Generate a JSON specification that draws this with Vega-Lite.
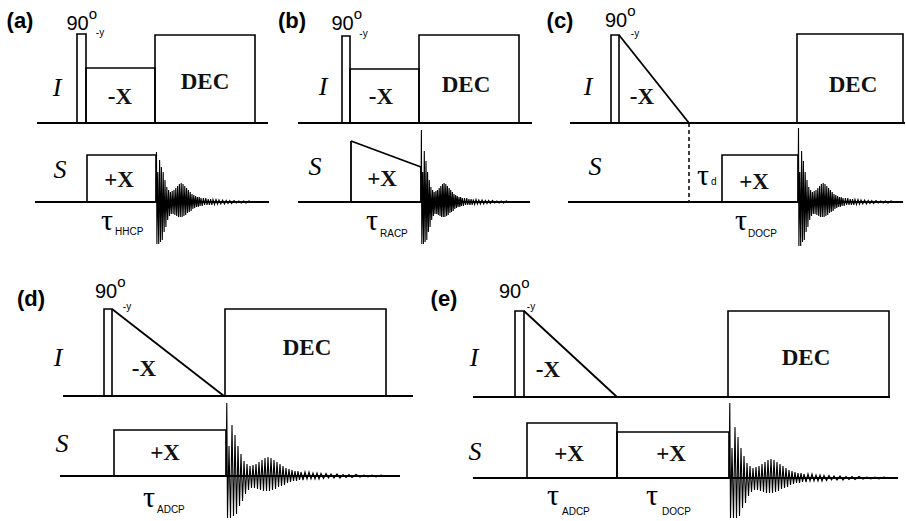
{
"$schema": "https://vega.github.io/schema/vega-lite/v6.json",
"width": 906, "height": 521,
"autosize": {"type": "fit", "contains": "padding"},
"padding": 0,
"background": "white",
"config": {"view": {"stroke": null}},
"datasets": {
"segs": [
{"x":37,"y":123,"x2":268,"y2":123},{"x":35,"y":202,"x2":269,"y2":202},
{"x":298,"y":123,"x2":532,"y2":123},{"x":298,"y":202,"x2":530,"y2":202},
{"x":570,"y":123,"x2":905,"y2":123},{"x":568,"y":202,"x2":903,"y2":202},
{"x":63,"y":396,"x2":413,"y2":396},{"x":60,"y":476,"x2":400,"y2":476},
{"x":473,"y":397,"x2":890,"y2":397},{"x":473,"y":478,"x2":898,"y2":478},
{"x":351,"y":202,"x2":351,"y2":141},{"x":351,"y":141,"x2":421,"y2":167},{"x":421,"y":167,"x2":421,"y2":202},
{"x":619,"y":35,"x2":689,"y2":123},{"x":112,"y":309,"x2":224,"y2":396},{"x":524,"y":311,"x2":617,"y2":397}
],
"delay": [{"x":689,"y":123,"x2":689,"y2":202}],
"boxes": [
{"x":77,"x2":86,"y":34,"y2":123},{"x":86,"x2":155,"y":68,"y2":123},{"x":155,"x2":255,"y":35,"y2":123},{"x":87,"x2":156,"y":155,"y2":202},
{"x":342,"x2":350,"y":36,"y2":123},{"x":350,"x2":419,"y":69,"y2":123},{"x":419,"x2":519,"y":35,"y2":123},
{"x":611,"x2":619,"y":35,"y2":123},{"x":797,"x2":903,"y":34,"y2":123},{"x":722,"x2":798,"y":155,"y2":202},
{"x":104,"x2":112,"y":309,"y2":396},{"x":225,"x2":386,"y":309,"y2":396},{"x":114,"x2":226,"y":430,"y2":476},
{"x":515,"x2":524,"y":311,"y2":397},{"x":728,"x2":889,"y":311,"y2":397},{"x":527,"x2":617,"y":423,"y2":478},{"x":617,"x2":729,"y":432,"y2":478}
],
"txt": [
{"r":"panel","x":20,"y":21,"t":"(a)"},{"r":"panel","x":292,"y":21,"t":"(b)"},{"r":"panel","x":560,"y":21,"t":"(c)"},{"r":"panel","x":31,"y":299,"t":"(d)"},{"r":"panel","x":444,"y":299,"t":"(e)"},
{"r":"ninety","x":77.5,"y":30,"t":"90"},{"r":"ninety","x":342.5,"y":30,"t":"90"},{"r":"ninety","x":616,"y":27,"t":"90"},{"r":"ninety","x":106,"y":298,"t":"90"},{"r":"ninety","x":510,"y":298,"t":"90"},
{"r":"deg","x":93,"y":14,"t":"o"},{"r":"deg","x":358,"y":14,"t":"o"},{"r":"deg","x":631.5,"y":11,"t":"o"},{"r":"deg","x":121.5,"y":282,"t":"o"},{"r":"deg","x":525.5,"y":283,"t":"o"},
{"r":"phase","x":100,"y":33,"t":"-y"},{"r":"phase","x":363.5,"y":34,"t":"-y"},{"r":"phase","x":635,"y":34,"t":"-y"},{"r":"phase","x":127,"y":307,"t":"-y"},{"r":"phase","x":531,"y":307,"t":"-y"},
{"r":"nuc","x":57,"y":88,"t":"I"},{"r":"nuc","x":323,"y":87,"t":"I"},{"r":"nuc","x":588,"y":87,"t":"I"},{"r":"nuc","x":58,"y":358,"t":"I"},{"r":"nuc","x":474,"y":358,"t":"I"},
{"r":"nuc","x":60,"y":170,"t":"S"},{"r":"nuc","x":315,"y":167,"t":"S"},{"r":"nuc","x":595,"y":167,"t":"S"},{"r":"nuc","x":62,"y":444,"t":"S"},{"r":"nuc","x":475,"y":452,"t":"S"},
{"r":"op","x":120,"y":97,"t":"-X"},{"r":"op","x":381,"y":97,"t":"-X"},{"r":"op","x":642,"y":97,"t":"-X"},{"r":"op","x":144,"y":369,"t":"-X"},{"r":"op","x":548,"y":370,"t":"-X"},
{"r":"op","x":205,"y":82,"t":"DEC"},{"r":"op","x":466,"y":85,"t":"DEC"},{"r":"op","x":853,"y":85,"t":"DEC"},{"r":"op","x":307,"y":348,"t":"DEC"},{"r":"op","x":806,"y":358,"t":"DEC"},
{"r":"op","x":119,"y":180,"t":"+X"},{"r":"op","x":382,"y":179,"t":"+X"},{"r":"op","x":754,"y":182,"t":"+X"},{"r":"op","x":165,"y":453,"t":"+X"},{"r":"op","x":569,"y":454,"t":"+X"},{"r":"op","x":671,"y":454,"t":"+X"},
{"r":"tau","x":107,"y":230,"t":"τ"},{"r":"tau","x":372,"y":230,"t":"τ"},{"r":"tau","x":703,"y":185,"t":"τ"},{"r":"tau","x":741,"y":230,"t":"τ"},{"r":"tau","x":149,"y":507,"t":"τ"},{"r":"tau","x":553,"y":505,"t":"τ"},{"r":"tau","x":652,"y":505,"t":"τ"},
{"r":"sub","x":115,"y":235,"t":"HHCP"},{"r":"sub","x":380,"y":237,"t":"RACP"},{"r":"sub","x":711,"y":185,"t":"d"},{"r":"sub","x":748,"y":237,"t":"DOCP"},{"r":"sub","x":157,"y":513,"t":"ADCP"},{"r":"sub","x":562,"y":515,"t":"ADCP"},{"r":"sub","x":662,"y":515,"t":"DOCP"}
],
"fid": [
{"p":"a","x":156,"y":202},{"p":"a","x":156.5,"y":152},{"p":"a","x":156.9,"y":244},{"p":"a","x":157.8,"y":172},{"p":"a","x":158.7,"y":244},{"p":"a","x":159.6,"y":160},{"p":"a","x":160.5,"y":242},{"p":"a","x":161.4,"y":167},{"p":"a","x":162.3,"y":240},{"p":"a","x":163.2,"y":172},
{"p":"a","x":164.1,"y":232},{"p":"a","x":165,"y":180},{"p":"a","x":165.9,"y":227},{"p":"a","x":166.8,"y":187},{"p":"a","x":167.7,"y":220},{"p":"a","x":168.6,"y":190},{"p":"a","x":169.5,"y":216},{"p":"a","x":170.4,"y":192},{"p":"a","x":171.3,"y":214},{"p":"a","x":172.2,"y":191},
{"p":"a","x":173.1,"y":214},{"p":"a","x":174,"y":190},{"p":"a","x":174.9,"y":215},{"p":"a","x":175.8,"y":188},{"p":"a","x":176.7,"y":216},{"p":"a","x":177.6,"y":186},{"p":"a","x":178.5,"y":217},{"p":"a","x":179.4,"y":184},{"p":"a","x":180.3,"y":217},{"p":"a","x":181.2,"y":183},
{"p":"a","x":182.1,"y":217},{"p":"a","x":183,"y":184},{"p":"a","x":183.9,"y":216},{"p":"a","x":184.8,"y":186},{"p":"a","x":185.7,"y":215},{"p":"a","x":186.6,"y":188},{"p":"a","x":187.5,"y":213},{"p":"a","x":188.4,"y":190},{"p":"a","x":189.3,"y":212},{"p":"a","x":190.2,"y":192},
{"p":"a","x":191.1,"y":211},{"p":"a","x":192,"y":194},{"p":"a","x":192.9,"y":209},{"p":"a","x":193.8,"y":195},{"p":"a","x":194.7,"y":208},{"p":"a","x":195.6,"y":196},{"p":"a","x":196.5,"y":207},{"p":"a","x":197.4,"y":197},{"p":"a","x":198.3,"y":207},{"p":"a","x":199.2,"y":197},
{"p":"a","x":200.1,"y":206},{"p":"a","x":201,"y":198},{"p":"a","x":202.2,"y":206},{"p":"a","x":203.4,"y":198},{"p":"a","x":204.6,"y":205},{"p":"a","x":205.8,"y":198},{"p":"a","x":207,"y":205},{"p":"a","x":208.2,"y":199},{"p":"a","x":209.4,"y":205},{"p":"a","x":210.6,"y":199},
{"p":"a","x":211.8,"y":205},{"p":"a","x":213,"y":199.5},{"p":"a","x":214.5,"y":204.5},{"p":"a","x":216,"y":199.5},{"p":"a","x":217.5,"y":204},{"p":"a","x":219,"y":200},{"p":"a","x":220.8,"y":204},{"p":"a","x":222.6,"y":200},{"p":"a","x":224.4,"y":204},{"p":"a","x":226.2,"y":200.5},
{"p":"a","x":228,"y":203.5},{"p":"a","x":229.8,"y":200.5},{"p":"a","x":231.6,"y":203.5},{"p":"a","x":234,"y":200.5},{"p":"a","x":236.4,"y":203},{"p":"a","x":238.8,"y":201},{"p":"a","x":241.2,"y":203},{"p":"a","x":243.6,"y":201},{"p":"a","x":246,"y":203},{"p":"a","x":249,"y":201},
{"p":"a","x":252,"y":202.5},{"p":"a","x":255,"y":201.5},{"p":"a","x":260,"y":202},
{"p":"b","x":421,"y":202},{"p":"b","x":421.4,"y":130},{"p":"b","x":421.8,"y":244},{"p":"b","x":422.7,"y":172},{"p":"b","x":423.5,"y":244},{"p":"b","x":424.3,"y":151},{"p":"b","x":425.1,"y":242},{"p":"b","x":426,"y":161},{"p":"b","x":426.8,"y":240},{"p":"b","x":427.6,"y":172},
{"p":"b","x":428.4,"y":232},{"p":"b","x":429.3,"y":180},{"p":"b","x":430.1,"y":227},{"p":"b","x":430.9,"y":187},{"p":"b","x":431.7,"y":220},{"p":"b","x":432.6,"y":190},{"p":"b","x":433.4,"y":216},{"p":"b","x":434.2,"y":192},{"p":"b","x":435,"y":214},{"p":"b","x":435.9,"y":191},
{"p":"b","x":436.7,"y":214},{"p":"b","x":437.5,"y":190},{"p":"b","x":438.3,"y":215},{"p":"b","x":439.2,"y":188},{"p":"b","x":440,"y":216},{"p":"b","x":440.8,"y":186},{"p":"b","x":441.6,"y":217},{"p":"b","x":442.5,"y":184},{"p":"b","x":443.3,"y":217},{"p":"b","x":444.1,"y":183},
{"p":"b","x":444.9,"y":217},{"p":"b","x":445.8,"y":184},{"p":"b","x":446.6,"y":216},{"p":"b","x":447.4,"y":186},{"p":"b","x":448.2,"y":215},{"p":"b","x":449.1,"y":188},{"p":"b","x":449.9,"y":213},{"p":"b","x":450.7,"y":190},{"p":"b","x":451.5,"y":212},{"p":"b","x":452.4,"y":192},
{"p":"b","x":453.2,"y":211},{"p":"b","x":454,"y":194},{"p":"b","x":454.8,"y":209},{"p":"b","x":455.7,"y":195},{"p":"b","x":456.5,"y":208},{"p":"b","x":457.3,"y":196},{"p":"b","x":458.1,"y":207},{"p":"b","x":459,"y":197},{"p":"b","x":459.8,"y":207},{"p":"b","x":460.6,"y":197},
{"p":"b","x":461.4,"y":206},{"p":"b","x":462.3,"y":198},{"p":"b","x":463.4,"y":206},{"p":"b","x":464.5,"y":198},{"p":"b","x":465.6,"y":205},{"p":"b","x":466.7,"y":198},{"p":"b","x":467.8,"y":205},{"p":"b","x":468.9,"y":199},{"p":"b","x":470,"y":205},{"p":"b","x":471.1,"y":199},
{"p":"b","x":472.2,"y":205},{"p":"b","x":473.3,"y":199.5},{"p":"b","x":474.6,"y":204.5},{"p":"b","x":476,"y":199.5},{"p":"b","x":477.4,"y":204},{"p":"b","x":478.8,"y":200},{"p":"b","x":480.4,"y":204},{"p":"b","x":482.1,"y":200},{"p":"b","x":483.7,"y":204},{"p":"b","x":485.4,"y":200.5},
{"p":"b","x":487,"y":203.5},{"p":"b","x":488.7,"y":200.5},{"p":"b","x":490.3,"y":203.5},{"p":"b","x":492.5,"y":200.5},{"p":"b","x":494.7,"y":203},{"p":"b","x":496.9,"y":201},{"p":"b","x":499.1,"y":203},{"p":"b","x":501.3,"y":201},{"p":"b","x":503.5,"y":203},{"p":"b","x":506.3,"y":201},
{"p":"b","x":509,"y":202.5},{"p":"b","x":511.8,"y":201.5},{"p":"b","x":517,"y":202},
{"p":"c","x":798,"y":202},{"p":"c","x":798.5,"y":128},{"p":"c","x":798.9,"y":246},{"p":"c","x":799.8,"y":172},{"p":"c","x":800.7,"y":246},{"p":"c","x":801.6,"y":151},{"p":"c","x":802.5,"y":242},{"p":"c","x":803.4,"y":161},{"p":"c","x":804.3,"y":240},{"p":"c","x":805.2,"y":172},
{"p":"c","x":806.1,"y":232},{"p":"c","x":807,"y":180},{"p":"c","x":807.9,"y":227},{"p":"c","x":808.8,"y":187},{"p":"c","x":809.7,"y":220},{"p":"c","x":810.6,"y":190},{"p":"c","x":811.5,"y":216},{"p":"c","x":812.4,"y":192},{"p":"c","x":813.3,"y":214},{"p":"c","x":814.2,"y":191},
{"p":"c","x":815.1,"y":214},{"p":"c","x":816,"y":190},{"p":"c","x":816.9,"y":215},{"p":"c","x":817.8,"y":188},{"p":"c","x":818.7,"y":216},{"p":"c","x":819.6,"y":186},{"p":"c","x":820.5,"y":217},{"p":"c","x":821.4,"y":184},{"p":"c","x":822.3,"y":217},{"p":"c","x":823.2,"y":183},
{"p":"c","x":824.1,"y":217},{"p":"c","x":825,"y":184},{"p":"c","x":825.9,"y":216},{"p":"c","x":826.8,"y":186},{"p":"c","x":827.7,"y":215},{"p":"c","x":828.6,"y":188},{"p":"c","x":829.5,"y":213},{"p":"c","x":830.4,"y":190},{"p":"c","x":831.3,"y":212},{"p":"c","x":832.2,"y":192},
{"p":"c","x":833.1,"y":211},{"p":"c","x":834,"y":194},{"p":"c","x":834.9,"y":209},{"p":"c","x":835.8,"y":195},{"p":"c","x":836.7,"y":208},{"p":"c","x":837.6,"y":196},{"p":"c","x":838.5,"y":207},{"p":"c","x":839.4,"y":197},{"p":"c","x":840.3,"y":207},{"p":"c","x":841.2,"y":197},
{"p":"c","x":842.1,"y":206},{"p":"c","x":843,"y":198},{"p":"c","x":844.2,"y":206},{"p":"c","x":845.4,"y":198},{"p":"c","x":846.6,"y":205},{"p":"c","x":847.8,"y":198},{"p":"c","x":849,"y":205},{"p":"c","x":850.2,"y":199},{"p":"c","x":851.4,"y":205},{"p":"c","x":852.6,"y":199},
{"p":"c","x":853.8,"y":205},{"p":"c","x":855,"y":199.5},{"p":"c","x":856.5,"y":204.5},{"p":"c","x":858,"y":199.5},{"p":"c","x":859.5,"y":204},{"p":"c","x":861,"y":200},{"p":"c","x":862.8,"y":204},{"p":"c","x":864.6,"y":200},{"p":"c","x":866.4,"y":204},{"p":"c","x":868.2,"y":200.5},
{"p":"c","x":870,"y":203.5},{"p":"c","x":871.8,"y":200.5},{"p":"c","x":873.6,"y":203.5},{"p":"c","x":876,"y":200.5},{"p":"c","x":878.4,"y":203},{"p":"c","x":880.8,"y":201},{"p":"c","x":883.2,"y":203},{"p":"c","x":885.6,"y":201},{"p":"c","x":888,"y":203},{"p":"c","x":891,"y":201},
{"p":"c","x":894,"y":202.5},{"p":"c","x":897,"y":201.5},{"p":"c","x":903,"y":202},
{"p":"d","x":226,"y":476},{"p":"d","x":226.8,"y":403},{"p":"d","x":227.5,"y":518},{"p":"d","x":229,"y":446},{"p":"d","x":230.5,"y":518},{"p":"d","x":232,"y":425},{"p":"d","x":233.5,"y":516},{"p":"d","x":235,"y":435},{"p":"d","x":236.5,"y":514},{"p":"d","x":238,"y":446},
{"p":"d","x":239.5,"y":506},{"p":"d","x":241,"y":454},{"p":"d","x":242.5,"y":501},{"p":"d","x":244,"y":461},{"p":"d","x":245.5,"y":494},{"p":"d","x":247,"y":464},{"p":"d","x":248.5,"y":490},{"p":"d","x":250,"y":466},{"p":"d","x":251.5,"y":488},{"p":"d","x":253,"y":465},
{"p":"d","x":254.5,"y":488},{"p":"d","x":256,"y":464},{"p":"d","x":257.5,"y":489},{"p":"d","x":259,"y":462},{"p":"d","x":260.5,"y":490},{"p":"d","x":262,"y":460},{"p":"d","x":263.5,"y":491},{"p":"d","x":265,"y":458},{"p":"d","x":266.5,"y":491},{"p":"d","x":268,"y":457},
{"p":"d","x":269.5,"y":491},{"p":"d","x":271,"y":458},{"p":"d","x":272.5,"y":490},{"p":"d","x":274,"y":460},{"p":"d","x":275.5,"y":489},{"p":"d","x":277,"y":462},{"p":"d","x":278.5,"y":487},{"p":"d","x":280,"y":464},{"p":"d","x":281.5,"y":486},{"p":"d","x":283,"y":466},
{"p":"d","x":284.5,"y":485},{"p":"d","x":286,"y":468},{"p":"d","x":287.5,"y":483},{"p":"d","x":289,"y":469},{"p":"d","x":290.5,"y":482},{"p":"d","x":292,"y":470},{"p":"d","x":293.5,"y":481},{"p":"d","x":295,"y":471},{"p":"d","x":296.5,"y":481},{"p":"d","x":298,"y":471},
{"p":"d","x":299.5,"y":480},{"p":"d","x":301,"y":472},{"p":"d","x":303,"y":480},{"p":"d","x":305,"y":472},{"p":"d","x":307,"y":479},{"p":"d","x":309,"y":472},{"p":"d","x":311,"y":479},{"p":"d","x":313,"y":473},{"p":"d","x":315,"y":479},{"p":"d","x":317,"y":473},
{"p":"d","x":319,"y":479},{"p":"d","x":321,"y":473.5},{"p":"d","x":323.5,"y":478.5},{"p":"d","x":326,"y":473.5},{"p":"d","x":328.5,"y":478},{"p":"d","x":331,"y":474},{"p":"d","x":334,"y":478},{"p":"d","x":337,"y":474},{"p":"d","x":340,"y":478},{"p":"d","x":343,"y":474.5},
{"p":"d","x":346,"y":477.5},{"p":"d","x":349,"y":474.5},{"p":"d","x":352,"y":477.5},{"p":"d","x":356,"y":474.5},{"p":"d","x":360,"y":477},{"p":"d","x":364,"y":475},{"p":"d","x":368,"y":477},{"p":"d","x":372,"y":475},{"p":"d","x":376,"y":477},{"p":"d","x":381,"y":475},
{"p":"d","x":386,"y":476.5},{"p":"d","x":391,"y":475.5},{"p":"d","x":400,"y":476},
{"p":"e","x":729,"y":478},{"p":"e","x":729.8,"y":403},{"p":"e","x":730.5,"y":518},{"p":"e","x":732,"y":448},{"p":"e","x":733.5,"y":518},{"p":"e","x":735,"y":427},{"p":"e","x":736.5,"y":518},{"p":"e","x":738,"y":437},{"p":"e","x":739.5,"y":516},{"p":"e","x":741,"y":448},
{"p":"e","x":742.5,"y":508},{"p":"e","x":744,"y":456},{"p":"e","x":745.5,"y":503},{"p":"e","x":747,"y":463},{"p":"e","x":748.5,"y":496},{"p":"e","x":750,"y":466},{"p":"e","x":751.5,"y":492},{"p":"e","x":753,"y":468},{"p":"e","x":754.5,"y":490},{"p":"e","x":756,"y":467},
{"p":"e","x":757.5,"y":490},{"p":"e","x":759,"y":466},{"p":"e","x":760.5,"y":491},{"p":"e","x":762,"y":464},{"p":"e","x":763.5,"y":492},{"p":"e","x":765,"y":462},{"p":"e","x":766.5,"y":493},{"p":"e","x":768,"y":460},{"p":"e","x":769.5,"y":493},{"p":"e","x":771,"y":459},
{"p":"e","x":772.5,"y":493},{"p":"e","x":774,"y":460},{"p":"e","x":775.5,"y":492},{"p":"e","x":777,"y":462},{"p":"e","x":778.5,"y":491},{"p":"e","x":780,"y":464},{"p":"e","x":781.5,"y":489},{"p":"e","x":783,"y":466},{"p":"e","x":784.5,"y":488},{"p":"e","x":786,"y":468},
{"p":"e","x":787.5,"y":487},{"p":"e","x":789,"y":470},{"p":"e","x":790.5,"y":485},{"p":"e","x":792,"y":471},{"p":"e","x":793.5,"y":484},{"p":"e","x":795,"y":472},{"p":"e","x":796.5,"y":483},{"p":"e","x":798,"y":473},{"p":"e","x":799.5,"y":483},{"p":"e","x":801,"y":473},
{"p":"e","x":802.5,"y":482},{"p":"e","x":804,"y":474},{"p":"e","x":806,"y":482},{"p":"e","x":808,"y":474},{"p":"e","x":810,"y":481},{"p":"e","x":812,"y":474},{"p":"e","x":814,"y":481},{"p":"e","x":816,"y":475},{"p":"e","x":818,"y":481},{"p":"e","x":820,"y":475},
{"p":"e","x":822,"y":481},{"p":"e","x":824,"y":475.5},{"p":"e","x":826.5,"y":480.5},{"p":"e","x":829,"y":475.5},{"p":"e","x":831.5,"y":480},{"p":"e","x":834,"y":476},{"p":"e","x":837,"y":480},{"p":"e","x":840,"y":476},{"p":"e","x":843,"y":480},{"p":"e","x":846,"y":476.5},
{"p":"e","x":849,"y":479.5},{"p":"e","x":852,"y":476.5},{"p":"e","x":855,"y":479.5},{"p":"e","x":859,"y":476.5},{"p":"e","x":863,"y":479},{"p":"e","x":867,"y":477},{"p":"e","x":871,"y":479},{"p":"e","x":875,"y":477},{"p":"e","x":879,"y":479},{"p":"e","x":884,"y":477},
{"p":"e","x":889,"y":478.5},{"p":"e","x":894,"y":477.5},{"p":"e","x":898,"y":478}
]
},
"layer": [
{"data": {"name": "boxes"},
 "mark": {"type": "rect", "filled": false, "stroke": "black", "strokeWidth": 1.6},
 "encoding": {
  "x": {"field": "x", "type": "quantitative", "scale": {"domain": [0, 906], "nice": false, "zero": false}, "axis": null},
  "x2": {"field": "x2"},
  "y": {"field": "y", "type": "quantitative", "scale": {"domain": [521, 0], "nice": false, "zero": false}, "axis": null},
  "y2": {"field": "y2"}}},
{"data": {"name": "segs"},
 "mark": {"type": "rule", "color": "black", "strokeWidth": 1.8},
 "encoding": {
  "x": {"field": "x", "type": "quantitative", "axis": null},
  "x2": {"field": "x2"},
  "y": {"field": "y", "type": "quantitative", "axis": null},
  "y2": {"field": "y2"}}},
{"data": {"name": "delay"},
 "mark": {"type": "rule", "color": "black", "strokeWidth": 1.5, "strokeDash": [4, 3]},
 "encoding": {
  "x": {"field": "x", "type": "quantitative", "axis": null},
  "x2": {"field": "x2"},
  "y": {"field": "y", "type": "quantitative", "axis": null},
  "y2": {"field": "y2"}}},
{"data": {"name": "fid"},
 "mark": {"type": "line", "color": "black", "strokeWidth": 1.1},
 "encoding": {
  "x": {"field": "x", "type": "quantitative", "axis": null},
  "y": {"field": "y", "type": "quantitative", "axis": null},
  "detail": {"field": "p"}}},
{"data": {"name": "txt"},
 "transform": [{"filter": {"field": "r", "equal": "panel"}}],
 "mark": {"type": "text", "font": "Liberation Sans", "fontWeight": "bold", "fontSize": 22, "align": "center", "baseline": "middle", "color": "black"},
 "encoding": {"x": {"field": "x", "type": "quantitative"}, "y": {"field": "y", "type": "quantitative"}, "text": {"field": "t"}}},
{"data": {"name": "txt"},
 "transform": [{"filter": {"field": "r", "equal": "ninety"}}],
 "mark": {"type": "text", "font": "Liberation Sans", "fontSize": 20, "align": "center", "baseline": "alphabetic", "color": "black"},
 "encoding": {"x": {"field": "x", "type": "quantitative"}, "y": {"field": "y", "type": "quantitative"}, "text": {"field": "t"}}},
{"data": {"name": "txt"},
 "transform": [{"filter": {"field": "r", "equal": "deg"}}],
 "mark": {"type": "text", "font": "Liberation Sans", "fontSize": 15, "align": "center", "baseline": "middle", "color": "black"},
 "encoding": {"x": {"field": "x", "type": "quantitative"}, "y": {"field": "y", "type": "quantitative"}, "text": {"field": "t"}}},
{"data": {"name": "txt"},
 "transform": [{"filter": {"field": "r", "equal": "phase"}}],
 "mark": {"type": "text", "font": "Liberation Sans", "fontSize": 10, "align": "center", "baseline": "middle", "color": "black"},
 "encoding": {"x": {"field": "x", "type": "quantitative"}, "y": {"field": "y", "type": "quantitative"}, "text": {"field": "t"}}},
{"data": {"name": "txt"},
 "transform": [{"filter": {"field": "r", "equal": "nuc"}}],
 "mark": {"type": "text", "font": "Liberation Serif", "fontStyle": "italic", "fontSize": 26, "align": "center", "baseline": "middle", "color": "black"},
 "encoding": {"x": {"field": "x", "type": "quantitative"}, "y": {"field": "y", "type": "quantitative"}, "text": {"field": "t"}}},
{"data": {"name": "txt"},
 "transform": [{"filter": {"field": "r", "equal": "op"}}],
 "mark": {"type": "text", "font": "Liberation Serif", "fontWeight": "bold", "fontSize": 23, "align": "center", "baseline": "middle", "color": "#111"},
 "encoding": {"x": {"field": "x", "type": "quantitative"}, "y": {"field": "y", "type": "quantitative"}, "text": {"field": "t"}}},
{"data": {"name": "txt"},
 "transform": [{"filter": {"field": "r", "equal": "tau"}}],
 "mark": {"type": "text", "font": "Liberation Serif", "fontSize": 30, "align": "center", "baseline": "alphabetic", "color": "black"},
 "encoding": {"x": {"field": "x", "type": "quantitative"}, "y": {"field": "y", "type": "quantitative"}, "text": {"field": "t"}}},
{"data": {"name": "txt"},
 "transform": [{"filter": {"field": "r", "equal": "sub"}}],
 "mark": {"type": "text", "font": "Liberation Sans", "fontSize": 10, "align": "left", "baseline": "alphabetic", "color": "black"},
 "encoding": {"x": {"field": "x", "type": "quantitative"}, "y": {"field": "y", "type": "quantitative"}, "text": {"field": "t"}}}
]
}
